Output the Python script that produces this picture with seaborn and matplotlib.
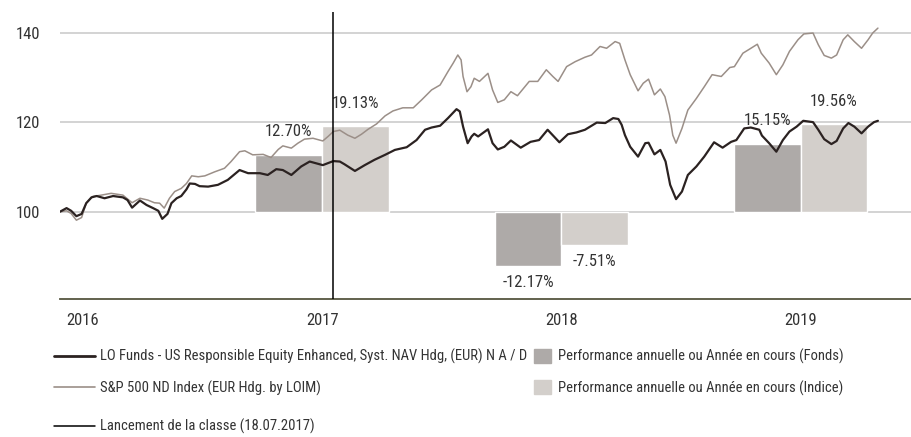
import pandas as pd
import matplotlib
matplotlib.use("Agg")
import matplotlib.pyplot as plt
import matplotlib.dates as mdates
from matplotlib.lines import Line2D
from matplotlib.patches import Patch
import seaborn as sns

# fund NAV (rebased to 100)
fund_dates = [
    "2016-05-28", "2016-06-07", "2016-06-14", "2016-06-22", "2016-06-30", "2016-07-07",
    "2016-07-15", "2016-07-23", "2016-08-04", "2016-08-17", "2016-09-01", "2016-09-08",
    "2016-09-15", "2016-09-27", "2016-10-07", "2016-10-17", "2016-10-25", "2016-10-31",
    "2016-11-08", "2016-11-14", "2016-11-22", "2016-11-29", "2016-12-07", "2016-12-12",
    "2016-12-20", "2016-12-27", "2017-01-09", "2017-01-24", "2017-02-08", "2017-02-26",
    "2017-03-11", "2017-03-29", "2017-04-10", "2017-04-23", "2017-05-03", "2017-05-16",
    "2017-05-31", "2017-06-13", "2017-07-03", "2017-07-19", "2017-07-29", "2017-08-05",
    "2017-08-21", "2017-09-05", "2017-09-20", "2017-10-06", "2017-10-21", "2017-11-08",
    "2017-11-23", "2017-12-06", "2017-12-16", "2017-12-29", "2018-01-10", "2018-01-23",
    "2018-01-28", "2018-02-02", "2018-02-09", "2018-02-15", "2018-02-19", "2018-02-25",
    "2018-03-12", "2018-03-19", "2018-03-27", "2018-04-06", "2018-04-16", "2018-05-01",
    "2018-05-16", "2018-05-29", "2018-06-11", "2018-06-29", "2018-07-12", "2018-07-25",
    "2018-08-07", "2018-08-25", "2018-09-07", "2018-09-19", "2018-09-27", "2018-10-02",
    "2018-10-07", "2018-10-15", "2018-10-27", "2018-11-07", "2018-11-12", "2018-11-21",
    "2018-11-30", "2018-12-08", "2018-12-15", "2018-12-24", "2019-01-02", "2019-01-11",
    "2019-01-24", "2019-02-05", "2019-02-20", "2019-03-05", "2019-03-18", "2019-03-26",
    "2019-04-07", "2019-04-17", "2019-04-30", "2019-05-04", "2019-05-15", "2019-05-26",
    "2019-06-05", "2019-06-15", "2019-06-26", "2019-07-06", "2019-07-21", "2019-07-29",
    "2019-08-07", "2019-08-18", "2019-08-26", "2019-09-05", "2019-09-13", "2019-09-22",
    "2019-10-03", "2019-10-13", "2019-10-22", "2019-10-28",
]
fund_values = [
    100.0, 100.8, 100.2, 99.0, 99.5, 101.9,
    103.2, 103.5, 103.0, 103.5, 103.2, 102.6,
    100.9, 102.5, 101.5, 100.8, 100.2, 98.4,
    99.5, 101.9, 103.0, 103.5, 105.0, 106.3,
    106.2, 105.7, 105.6, 106.0, 107.1, 109.3,
    108.6, 108.6, 108.2, 109.5, 109.3, 108.2,
    110.1, 111.2, 110.4, 111.3, 111.2, 110.6,
    109.1, 110.4, 111.6, 112.7, 113.8, 114.4,
    116.0, 118.3, 118.8, 119.2, 120.9, 122.9,
    122.4, 119.0, 115.3, 116.8, 117.4, 116.8,
    118.4, 115.3, 113.9, 114.5, 115.9, 114.3,
    115.6, 116.0, 118.3, 115.5, 117.3, 117.7,
    118.3, 119.9, 119.8, 120.9, 120.7, 119.4,
    117.1, 114.5, 112.3, 115.3, 115.4, 112.8,
    113.8, 111.2, 106.0, 102.8, 104.5, 108.2,
    110.1, 112.3, 115.5, 114.3, 115.6, 116.0,
    118.6, 118.8, 118.3, 117.0, 115.3, 113.4,
    116.0, 117.9, 119.0, 120.3, 120.0, 118.3,
    116.2, 115.1, 115.8, 118.6, 119.8, 119.0,
    117.5, 119.0, 120.0, 120.3,
]

# index (rebased to 100)
index_dates = [
    "2016-05-28", "2016-06-07", "2016-06-14", "2016-06-22", "2016-06-30", "2016-07-07",
    "2016-07-17", "2016-07-30", "2016-08-14", "2016-09-01", "2016-09-15", "2016-09-27",
    "2016-10-09", "2016-10-19", "2016-10-27", "2016-11-03", "2016-11-11", "2016-11-19",
    "2016-11-29", "2016-12-07", "2016-12-15", "2016-12-25", "2017-01-04", "2017-01-19",
    "2017-02-03", "2017-02-13", "2017-02-26", "2017-03-06", "2017-03-18", "2017-04-03",
    "2017-04-15", "2017-04-26", "2017-05-03", "2017-05-16", "2017-05-26", "2017-06-05",
    "2017-06-18", "2017-07-03", "2017-07-11", "2017-07-19", "2017-07-29", "2017-08-10",
    "2017-08-21", "2017-08-31", "2017-09-10", "2017-09-23", "2017-10-06", "2017-10-18",
    "2017-11-02", "2017-11-18", "2017-12-01", "2017-12-16", "2017-12-29", "2018-01-10",
    "2018-01-18", "2018-01-25", "2018-01-30", "2018-02-02", "2018-02-08", "2018-02-14",
    "2018-02-19", "2018-02-27", "2018-03-12", "2018-03-19", "2018-03-27", "2018-04-06",
    "2018-04-16", "2018-04-26", "2018-05-14", "2018-05-27", "2018-06-09", "2018-06-19",
    "2018-06-27", "2018-07-10", "2018-07-23", "2018-08-07", "2018-08-17", "2018-08-30",
    "2018-09-09", "2018-09-22", "2018-09-29", "2018-10-07", "2018-10-15", "2018-10-27",
    "2018-11-04", "2018-11-12", "2018-11-21", "2018-11-30", "2018-12-07", "2018-12-14",
    "2018-12-19", "2018-12-24", "2019-01-02", "2019-01-11", "2019-01-24", "2019-02-05",
    "2019-02-17", "2019-03-03", "2019-03-16", "2019-03-23", "2019-04-05", "2019-04-15",
    "2019-04-27", "2019-05-03", "2019-05-15", "2019-05-26", "2019-06-05", "2019-06-15",
    "2019-06-28", "2019-07-07", "2019-07-21", "2019-07-29", "2019-08-07", "2019-08-18",
    "2019-08-26", "2019-09-05", "2019-09-12", "2019-09-22", "2019-10-03", "2019-10-13",
    "2019-10-20", "2019-10-28",
]
index_values = [
    100.0, 100.2, 99.6, 98.1, 98.7, 101.9,
    103.4, 103.7, 104.1, 103.7, 102.0, 103.0,
    102.6, 102.0, 101.9, 100.8, 103.0, 104.5,
    105.2, 106.3, 108.0, 107.8, 108.0, 108.9,
    109.7, 111.2, 113.4, 113.6, 112.7, 112.8,
    112.1, 113.9, 114.7, 114.2, 115.3, 116.2,
    116.4, 115.8, 116.8, 117.9, 118.2, 117.1,
    116.4, 117.3, 118.4, 119.6, 121.4, 122.5,
    123.2, 123.2, 125.0, 127.2, 128.3, 131.3,
    133.2, 135.0, 133.9, 130.2, 126.8, 127.9,
    129.8, 129.1, 130.9, 127.2, 124.4, 125.0,
    126.8, 125.9, 129.1, 129.1, 131.7, 130.2,
    129.1, 132.4, 133.5, 134.5, 135.0, 136.9,
    136.5, 138.0, 137.6, 133.9, 130.6, 127.0,
    128.7, 129.6, 126.1, 127.4, 125.7, 121.6,
    117.1, 115.3, 118.6, 122.7, 125.3, 127.9,
    130.6, 130.2, 132.2, 132.4, 135.4, 136.3,
    137.4, 135.4, 133.2, 130.6, 132.8, 135.8,
    138.4, 139.7, 139.9, 137.3, 134.9, 134.3,
    135.0, 138.4, 139.5, 138.0, 136.5, 138.4,
    139.9, 141.0,
]

# yearly performance in %
perf_years = [2017, 2018, 2019]
fund_perf = [12.70, -12.17, 15.15]
index_perf = [19.13, -7.51, 19.56]

launch_date = "2017-07-18"
axis_years = [2016, 2017, 2018, 2019]

fund_label = "LO Funds - US Responsible Equity Enhanced, Syst. NAV Hdg, (EUR) N A / D"
index_label = "S&P 500 ND Index (EUR Hdg. by LOIM)"
launch_label = "Lancement de la classe (18.07.2017)"
bar_fund_label = "Performance annuelle ou Année en cours (Fonds)"
bar_index_label = "Performance annuelle ou Année en cours (Indice)"

FUND_LINE = "#2b2221"
INDEX_LINE = "#9b8f88"
FUND_BAR = "#aeaaa8"
INDEX_BAR = "#d3cfcb"
TEXT = "#333333"

sns.set_style("white")
plt.rcParams["font.family"] = ["Roboto Condensed", "DejaVu Sans"]

fig = plt.figure(figsize=(9.12, 4.37), dpi=100)
ax = fig.add_axes([60 / 912, 1 - 299 / 437, 852 / 912, 287 / 437])

# bars: fund left of mid-year, index right of it
bar_w = 102  # days
for yr, fp, ip in zip(perf_years, fund_perf, index_perf):
    mid = mdates.date2num(pd.Timestamp(f"{yr}-07-02"))
    ax.bar(mid - bar_w, fp, width=bar_w, bottom=100, align="edge", color=FUND_BAR, zorder=1)
    ax.bar(mid, ip, width=bar_w, bottom=100, align="edge", color=INDEX_BAR, zorder=1)
    for cx, v in ((mid - bar_w / 2, fp), (mid + bar_w / 2, ip)):
        off = 16.5 if v > 0 else -12
        ax.annotate(f"{v:.2f}%", xy=(cx, 100 + v), xytext=(0, off), textcoords="offset points",
                    ha="center", va="center", fontsize=12, color=TEXT)

sns.lineplot(x=pd.to_datetime(index_dates), y=index_values, color=INDEX_LINE, lw=1.1, ax=ax, zorder=3)
sns.lineplot(x=pd.to_datetime(fund_dates), y=fund_values, color=FUND_LINE, lw=1.6, ax=ax, zorder=4)

ax.axvline(pd.Timestamp(launch_date), color="black", lw=1.1, zorder=5)

ax.set_ylim(80.5, 144.6)
ax.set_xlim(pd.Timestamp("2016-05-28"), pd.Timestamp("2019-12-19"))
ax.set_yticks([100, 120, 140])
ax.yaxis.grid(True, color="#cccccc", lw=1.2)
ax.set_axisbelow(True)
ax.tick_params(axis="y", length=0, pad=14, labelsize=12, labelcolor=TEXT)

ax.set_xticks([pd.Timestamp(f"{y}-01-01") for y in axis_years[1:]])
ax.set_xticklabels([])
ax.set_xticks([pd.Timestamp(f"{y}-07-02") for y in axis_years], minor=True)
ax.set_xticklabels([str(y) for y in axis_years], minor=True)
ax.tick_params(axis="x", which="major", length=7, width=1.3, color="#55553f", direction="out")
ax.tick_params(axis="x", which="minor", length=0, pad=10, labelsize=12, labelcolor=TEXT)
ax.set_xlabel("")
ax.set_ylabel("")

for s in ("left", "top", "right"):
    ax.spines[s].set_visible(False)
ax.spines["bottom"].set_color("#55553f")
ax.spines["bottom"].set_linewidth(1.3)

legend_kw = dict(loc="upper left", frameon=False, fontsize=10.5, borderpad=0, borderaxespad=0,
                 labelcolor=TEXT, labelspacing=1.1)
fig.legend([Line2D([], [], color=FUND_LINE, lw=2), Line2D([], [], color=INDEX_LINE, lw=1.2)],
           [fund_label, index_label], bbox_to_anchor=(54 / 912, 1 - 349 / 437),
           handlelength=2.8, handletextpad=0.35, **legend_kw)
fig.legend([Line2D([], [], color="black", lw=1.1)], [launch_label],
           bbox_to_anchor=(54 / 912, 1 - 419 / 437),
           handlelength=2.8, handletextpad=0.35, **legend_kw)
fig.legend([Patch(color=FUND_BAR), Patch(color=INDEX_BAR)], [bar_fund_label, bar_index_label],
           bbox_to_anchor=(534 / 912, 1 - 349 / 437),
           handlelength=1.2, handleheight=1.1, handletextpad=0.45, **legend_kw)

fig.savefig("out.png", dpi=100)
